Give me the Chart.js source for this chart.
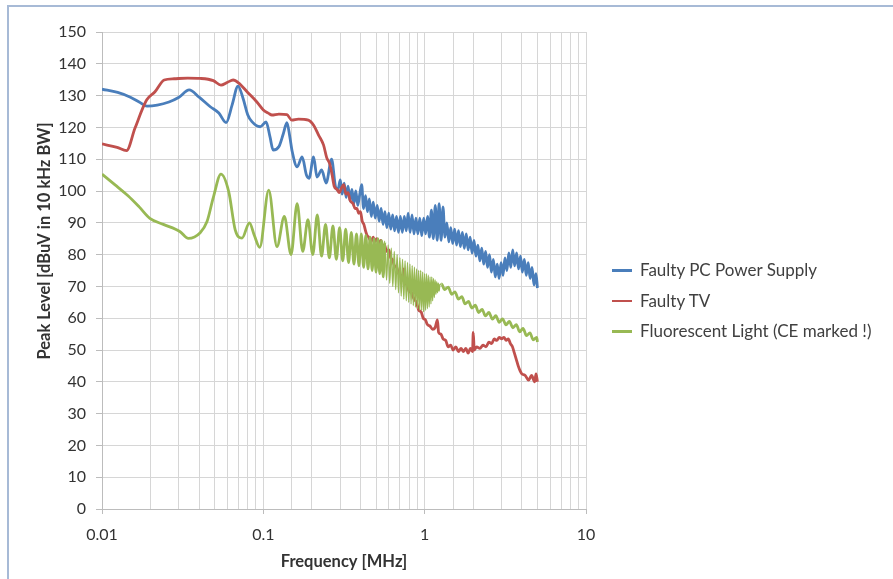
<!DOCTYPE html>
<html>
<head>
<meta charset="utf-8">
<script src="https://cdn.jsdelivr.net/npm/chart.js@4.4.1/dist/chart.umd.min.js"></script>
<style>
  html, body { margin: 0; padding: 0; background: #ffffff; overflow: hidden; }
  #wrap { position: relative; width: 893px; height: 579px; overflow: hidden; background: #ffffff; }
  .edge { position: absolute; background: #a7bad6; }
  #edgeLeft { left: 7px; top: 5px; width: 2px; height: 574px; }
  #edgeTop { left: 7px; top: 5px; width: 886px; height: 2px; }
  #chart { position: absolute; left: 0; top: 0; }
  #legend { position: absolute; left: 612px; top: 258px; font-family: Lato, sans-serif;
            font-size: 17px; color: #404040; }
  .item { position: relative; height: 30.5px; line-height: 24px; white-space: nowrap; }
  .swatch { position: absolute; left: 0; top: 11px; width: 20px; height: 2.5px; }
  .label { position: absolute; left: 28px; top: 0; }
</style>
</head>
<body>
<div id="wrap">
  <div class="edge" id="edgeLeft"></div>
  <div class="edge" id="edgeTop"></div>
  <canvas id="chart" width="893" height="579"></canvas>
  <div id="legend"></div>
</div>
<script>
// Conducted emission scans, peak detector, 10 kHz RBW.
const seriesNames = ['Faulty PC Power Supply', 'Faulty TV', 'Fluorescent Light (CE marked !)'];
const seriesColors = ['#4A7EBB', '#C0504D', '#98B954'];

// Faulty PC power supply
const pcFreq = [0.010, 0.0125, 0.015, 0.017, 0.019, 0.022, 0.026, 0.030, 0.0347, 0.040,
  0.0469, 0.053, 0.0588, 0.064, 0.0697, 0.075, 0.080, 0.085, 0.0956, 0.104,
  0.110, 0.115, 0.125, 0.133, 0.140, 0.146, 0.151, 0.162, 0.174, 0.185,
  0.192, 0.205, 0.215, 0.230, 0.245, 0.265, 0.280, 0.290,
  0.300, 0.308, 0.317, 0.326, 0.335, 0.345, 0.354, 0.364, 0.374, 0.385,
  0.396, 0.407, 0.418, 0.430, 0.442, 0.454, 0.467, 0.480, 0.494, 0.508,
  0.522, 0.537, 0.552, 0.567, 0.583, 0.599, 0.616, 0.633, 0.651, 0.669,
  0.688, 0.707, 0.727, 0.748, 0.769, 0.790, 0.812, 0.835, 0.859, 0.883,
  0.907, 0.933, 0.959, 0.986, 1.013, 1.042, 1.071, 1.101, 1.132, 1.163,
  1.196, 1.229, 1.264, 1.299, 1.336, 1.373, 1.412, 1.451, 1.492, 1.534,
  1.577, 1.621, 1.666, 1.713, 1.761, 1.810, 1.861, 1.913, 1.967, 2.022,
  2.078, 2.137, 2.196, 2.258, 2.321, 2.386, 2.453, 2.522, 2.592, 2.665,
  2.740, 2.816, 2.895, 2.976, 3.060, 3.145, 3.234, 3.324, 3.417, 3.513,
  3.611, 3.713, 3.817, 3.923, 4.033, 4.146, 4.263, 4.382, 4.505, 4.631,
  4.760, 4.894, 5.000];
const pcLevel = [132, 131, 129.5, 128, 126.7, 127, 128, 129.5, 131.8, 129.5,
  126.5, 124.5, 121.5, 127, 133, 129, 124, 121.8, 120.2, 121.7,
  117, 112.9, 114, 118, 121.5, 117, 112.4, 107.6, 110.7, 105,
  104, 110.7, 104.4, 106.6, 102.5, 110, 101.4, 100.5,
  103.5, 99, 102.5, 98, 101.5, 97, 100.5, 96, 100, 95.5,
  99, 102, 94.5, 98.5, 93.5, 97.5, 92, 96.5, 91.5, 95.5,
  90.5, 94.5, 89.5, 93.5, 88.5, 93, 88, 92.5, 87.5, 92,
  87, 92, 87, 92, 87.5, 93, 87, 92.5, 86.5, 91.5,
  86.5, 91.5, 86, 91.5, 86.5, 92, 85.5, 94, 85, 95.5,
  84.5, 96, 84.5, 95, 85.5, 90, 84, 88.5, 83.5, 88,
  83, 87.5, 82.5, 87, 82, 86.5, 81.5, 85.5, 80.5, 84.5,
  79.5, 83, 78, 82, 77, 81, 76, 80, 74.5, 78.5,
  73, 77, 72.5, 77.5, 73.5, 79, 75, 80.5, 76, 81.5,
  76.5, 80.5, 75.5, 79.5, 74.5, 78.5, 73.5, 77.5, 72.5, 76,
  70.5, 74, 69.5];

// Faulty TV
const tvFreq = [0.010, 0.0124, 0.0142, 0.016, 0.0189, 0.0213, 0.0243, 0.028, 0.034, 0.0406,
  0.049, 0.0546, 0.060, 0.065, 0.0702, 0.080, 0.0912, 0.100, 0.108, 0.113,
  0.125, 0.140, 0.150, 0.165, 0.190, 0.205, 0.220, 0.236, 0.247, 0.258,
  0.267, 0.275, 0.286, 0.296,
  0.305, 0.315, 0.325, 0.335, 0.345, 0.360, 0.370, 0.380, 0.390, 0.400,
  0.410, 0.420, 0.430, 0.440, 0.450, 0.465, 0.480, 0.490, 0.505, 0.520,
  0.535, 0.550, 0.565, 0.580, 0.600, 0.615, 0.630, 0.650, 0.670, 0.690,
  0.710, 0.730, 0.740, 0.755, 0.780, 0.800, 0.830, 0.860, 0.890, 0.920,
  0.950, 0.980, 1.01, 1.04, 1.08, 1.12, 1.16, 1.20, 1.22, 1.26,
  1.30, 1.35, 1.40, 1.45, 1.50, 1.56, 1.62, 1.68, 1.74, 1.80,
  1.86, 1.92, 1.98, 2.00, 2.03, 2.10, 2.20, 2.30, 2.40, 2.50,
  2.60, 2.70, 2.80, 2.90, 3.00, 3.10, 3.20, 3.30, 3.40, 3.50,
  3.60, 3.70, 3.80, 3.90, 4.00, 4.20, 4.40, 4.60, 4.80, 4.90, 5.00];
const tvLevel = [114.8, 113.7, 112.7, 119.7, 128.6, 131.2, 134.9, 135.3, 135.5, 135.4,
  134.7, 133.3, 134.2, 134.9, 134, 131, 128, 125.5, 124.4, 123.9,
  124.2, 124, 122.3, 122.6, 122.3, 120.7, 117.6, 114.5, 110.5, 108.5,
  105, 101.5, 100.5, 99.5,
  101, 102, 99, 99.5, 97, 96, 94.5, 94.5, 93, 93.5,
  90.5, 89.5, 87.5, 86, 85.5, 84, 85.5, 84, 85, 83.5,
  84.5, 82.5, 83, 81, 81.5, 79, 78.5, 76.5, 76, 74,
  73.5, 72, 75.5, 71, 70.5, 68.5, 68, 66, 65, 62.5,
  62, 60, 59.5, 58, 57.5, 56.5, 57, 59.5, 55.5, 55,
  53.5, 53, 51, 51.5, 50, 51, 49.5, 50.5, 49.5, 50.5,
  49, 50.5, 49.5, 55.5, 50, 51, 50.5, 51.5, 51, 52.5,
  52, 53.5, 53, 54, 53.5, 54, 53, 53.5, 52, 51,
  49, 47, 45, 43.5, 42.5, 42, 40.5, 42, 40, 42.5, 40];

// Fluorescent light (CE marked)
const lightFreq = [0.010, 0.012, 0.0145, 0.017, 0.0198, 0.024, 0.0305, 0.0343, 0.0406, 0.0447,
  0.049, 0.0546, 0.061, 0.067, 0.0738, 0.082, 0.088, 0.095, 0.108,
  0.1215, 0.135, 0.1485, 0.162, 0.1755, 0.189, 0.2025, 0.216, 0.2295, 0.243,
  0.2565, 0.270, 0.2835, 0.297, 0.3105, 0.324, 0.3375, 0.351, 0.3645, 0.378,
  0.3915, 0.405, 0.4185, 0.432, 0.4455, 0.459, 0.4725, 0.486, 0.4995, 0.513,
  0.5265, 0.540, 0.5535, 0.567, 0.5805, 0.594, 0.6075, 0.621, 0.6345, 0.648,
  0.6615, 0.675, 0.6885, 0.702, 0.7155, 0.729, 0.7425, 0.756, 0.7695, 0.783,
  0.7965, 0.810, 0.8235, 0.837, 0.8505, 0.864, 0.8775, 0.891, 0.9045, 0.918,
  0.9315, 0.945, 0.9585, 0.972, 0.9855, 0.999, 1.0125, 1.026, 1.0395, 1.053,
  1.0665, 1.080, 1.0935, 1.107, 1.1205, 1.134, 1.1475, 1.161, 1.1745, 1.188,
  1.2015, 1.215, 1.2285, 1.242,
  1.27, 1.33, 1.40, 1.47, 1.54, 1.62, 1.70, 1.78, 1.87, 1.96,
  2.06, 2.16, 2.27, 2.38, 2.50, 2.63, 2.76, 2.90, 3.04, 3.19,
  3.35, 3.52, 3.70, 3.88, 4.07, 4.28, 4.49, 4.71, 4.95, 5.00];
const lightLevel = [105.3, 102, 98.5, 95, 91.4, 89.5, 87.2, 85.1, 86.9, 90.3,
  98, 105.3, 99.8, 87.7, 85.2, 90, 86, 82.3, 100.3,
  82.5, 92, 80, 96, 81, 91, 80, 92.5, 79.5, 89.5,
  79, 89, 78.5, 88.5, 78, 88, 77.5, 87, 77, 86.5,
  76.5, 86.5, 76, 86, 75.5, 85.5, 75, 85, 74.5, 85,
  74, 84.5, 73, 84, 72, 83, 71, 82, 70, 81,
  69, 80, 68, 79, 67, 78.5, 66, 78, 65.5, 77.5,
  65, 77, 64.5, 76.5, 64, 76, 63.5, 75.5, 63, 75,
  62.5, 75, 62.5, 74.5, 62, 74, 62.5, 74, 63, 73.5,
  63.5, 73, 64.5, 73, 65.5, 72.5, 66.5, 72, 67.5, 71.5,
  68, 71, 68.5, 70.5,
  70.8, 69, 69.8, 67.5, 68.3, 66, 66.8, 64.5, 65.3, 63.2,
  64.1, 61.8, 62.8, 60.7, 61.8, 59.7, 60.8, 58.7, 59.8, 57.9,
  59, 57, 58, 55.7, 56.8, 54.5, 55.4, 53.2, 54, 52.5];

// Axis setup
const freqMin = 0.01, freqMax = 10;
const levelMin = 0, levelMax = 150, levelStep = 10;
const xTitle = 'Frequency [MHz]';
const yTitle = 'Peak Level [dBuV in 10 kHz BW]';

const toPoints = (xs, ys) => xs.map((x, i) => ({ x: x, y: ys[i] }));
const allFreq = [pcFreq, tvFreq, lightFreq];
const allLevel = [pcLevel, tvLevel, lightLevel];

Chart.defaults.font.family = 'Lato, sans-serif';
Chart.defaults.color = '#333333';

const isDecade = v => Math.abs(Math.log10(v) - Math.round(Math.log10(v))) < 1e-6;

// The tightly packed harmonic comb of the lamp is stroked thinner so the individual lines stay visible
const combWidth = ctx => {
  const f = ctx.p0.parsed.x;
  return (f > 0.56 && f < 1.25) ? 1.4 : undefined;
};

// Rotated value-axis caption
const yTitlePlugin = {
  id: 'yTitle',
  afterDraw(chart) {
    const ctx = chart.ctx;
    ctx.save();
    ctx.font = 'bold 16.5px Lato, sans-serif';
    ctx.fillStyle = '#333333';
    ctx.textAlign = 'center';
    ctx.textBaseline = 'middle';
    ctx.translate(45, 241);
    ctx.rotate(-Math.PI / 2);
    ctx.fillText(yTitle, 0, 0);
    ctx.restore();
  }
};

new Chart(document.getElementById('chart'), {
  type: 'line',
  data: {
    datasets: seriesNames.map((name, i) => ({
      label: name,
      data: toPoints(allFreq[i], allLevel[i]),
      borderColor: seriesColors[i],
      backgroundColor: seriesColors[i],
      borderWidth: 2.8,
      borderJoinStyle: 'round',
      pointRadius: 0,
      cubicInterpolationMode: 'monotone',
      fill: false,
      order: 2 - i,
      segment: i === 2 ? { borderWidth: combWidth } : {}
    }))
  },
  options: {
    responsive: false,
    animation: false,
    devicePixelRatio: 1,
    layout: { padding: { left: 0, top: 32, right: 307, bottom: 5 } },
    plugins: { legend: { display: false }, tooltip: { enabled: false } },
    scales: {
      x: {
        type: 'logarithmic',
        min: freqMin,
        max: freqMax,
        afterFit: s => { s.height = 65; },
        grid: {
          color: '#d6d6d6',
          lineWidth: 1,
          tickLength: 5,
          tickColor: ctx => (ctx.tick && isDecade(ctx.tick.value)) ? '#bcbcbc' : 'rgba(0,0,0,0)'
        },
        border: { color: '#bcbcbc', width: 1 },
        ticks: {
          autoSkip: false,
          maxRotation: 0,
          padding: 11,
          font: { size: 16 },
          callback: v => isDecade(v) ? String(Number(v)) : ''
        },
        title: {
          display: true,
          text: xTitle,
          font: { size: 16.5, weight: 'bold' },
          padding: { top: 4, bottom: 2 }
        }
      },
      y: {
        min: levelMin,
        max: levelMax,
        afterFit: s => { s.width = 102; },
        grid: { color: '#d6d6d6', lineWidth: 1, tickLength: 6, tickColor: '#bcbcbc' },
        border: { color: '#bcbcbc', width: 1 },
        ticks: { stepSize: levelStep, padding: 10, font: { size: 16 } }
      }
    }
  },
  plugins: [yTitlePlugin]
});

// Series key
const legend = document.getElementById('legend');
seriesNames.forEach((name, i) => {
  const row = document.createElement('div');
  row.className = 'item';
  const sw = document.createElement('div');
  sw.className = 'swatch';
  sw.style.background = seriesColors[i];
  const lb = document.createElement('div');
  lb.className = 'label';
  lb.textContent = name;
  row.appendChild(sw);
  row.appendChild(lb);
  legend.appendChild(row);
});
</script>
</body>
</html>
